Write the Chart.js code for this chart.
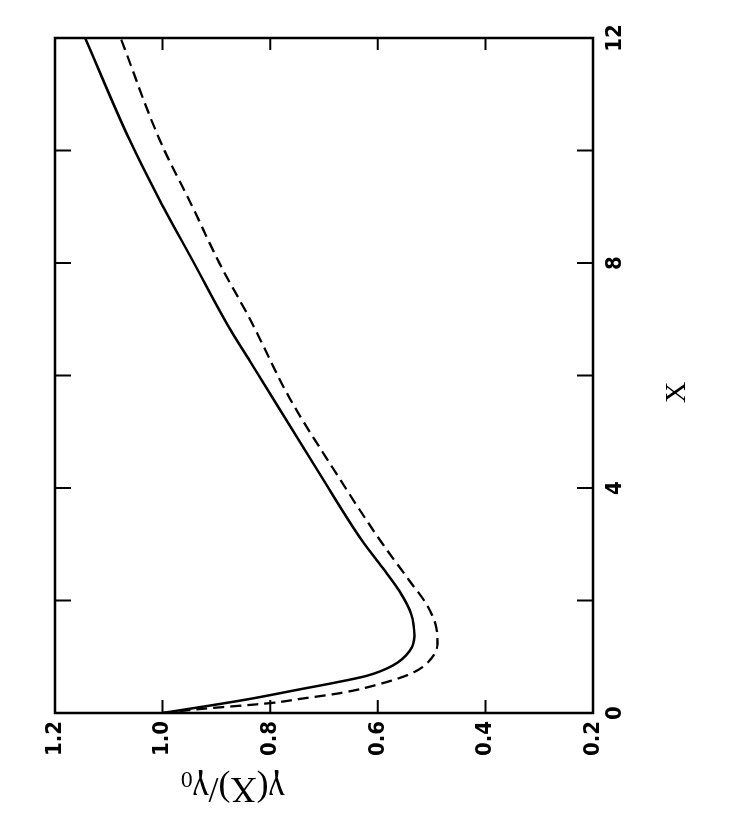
<!DOCTYPE html>
<html>
<head>
<meta charset="utf-8">
<script src="https://cdn.jsdelivr.net/npm/chart.js@4.4.1/dist/chart.umd.min.js"></script>
<style>
    html, body { margin: 0; padding: 0; background: #fff; }
    body { width: 745px; height: 830px; position: relative; overflow: hidden; }
    /* the figure is printed turned a quarter turn to the left */
    #wrap {
        position: absolute; left: 0; top: 0; width: 830px; height: 745px;
        transform-origin: 0 0; transform: translateY(830px) rotate(-90deg);
    }
</style>
</head>
<body>
<div id="wrap"><canvas id="chart" width="830" height="745"></canvas></div>
<script>
// X along the curve, gamma(X)/gamma0
const xSolid = [0, 0.12, 0.25, 0.43, 0.52, 0.66, 0.84, 1.10, 1.37, 1.76, 2.17, 2.58, 3.06, 4.25, 6.26, 6.83, 8.04, 9.11, 10.18, 12];
const ySolid = [1.0, 0.92, 0.838, 0.74, 0.69, 0.621, 0.573, 0.541, 0.532, 0.538, 0.560, 0.591, 0.629, 0.708, 0.838, 0.875, 0.944, 1.005, 1.061, 1.144];

const xDashed = [0, 0.07, 0.18, 0.25, 0.36, 0.53, 0.71, 0.93, 1.23, 1.51, 1.94, 2.35, 3.06, 4.36, 5.60, 7.01, 7.99, 8.99, 10.18, 12];
const yDashed = [1.0, 0.931, 0.796, 0.745, 0.666, 0.591, 0.536, 0.504, 0.489, 0.491, 0.510, 0.541, 0.595, 0.684, 0.764, 0.838, 0.894, 0.944, 1.005, 1.078];

const xTicks = [0, 2, 4, 6, 8, 10, 12];
const xLabels = ['0', '', '4', '', '8', '', '12'];
const yTicks = [0.2, 0.4, 0.6, 0.8, 1.0, 1.2];
const yLabels = ['0.2', '0.4', '0.6', '0.8', '1.0', '1.2'];

const ink = '#000';
const tickFont = { family: '"Liberation Sans Narrow", "DejaVu Sans Condensed", sans-serif', size: 22, weight: 'bold' };
const serif = '"Liberation Serif", "DejaVu Serif", serif';

function points(xs, ys) {
    return xs.map((x, i) => ({ x, y: ys[i] }));
}

const frame = {
    id: 'frame',
    afterDraw(chart) {
        const { ctx, chartArea: a, scales: { x, y } } = chart;
        ctx.save();
        ctx.strokeStyle = ink;
        ctx.lineWidth = 2.5;
        ctx.strokeRect(a.left, a.top, a.right - a.left, a.bottom - a.top);

        ctx.lineWidth = 2;
        ctx.beginPath();
        xTicks.slice(1, -1).forEach((v) => {
            const px = x.getPixelForValue(v);
            ctx.moveTo(px, a.bottom); ctx.lineTo(px, a.bottom - 16);
            ctx.moveTo(px, a.top); ctx.lineTo(px, a.top + 16);
        });
        yTicks.slice(1, -1).forEach((v) => {
            const py = y.getPixelForValue(v);
            ctx.moveTo(a.left, py); ctx.lineTo(a.left + 13, py);
            ctx.moveTo(a.right, py); ctx.lineTo(a.right - 12, py);
        });
        ctx.stroke();

        ctx.fillStyle = ink;
        ctx.textBaseline = 'middle';

        // X title, a little below the middle of the axis as printed
        ctx.textAlign = 'center';
        ctx.font = `30px ${serif}`;
        ctx.fillText('X', x.getPixelForValue(5.7), 677);

        // gamma(X)/gamma0, also off centre
        ctx.translate(43, y.getPixelForValue(0.87));
        ctx.rotate(-Math.PI / 2);
        ctx.textAlign = 'left';
        ctx.font = `36px ${serif}`;
        const main = 'γ(X)/γ';
        const wMain = ctx.measureText(main).width;
        ctx.font = `24px ${serif}`;
        const wSub = ctx.measureText('0').width;
        const start = -(wMain + wSub) / 2;
        ctx.font = `36px ${serif}`;
        ctx.fillText(main, start, 0);
        ctx.font = `24px ${serif}`;
        ctx.fillText('0', start + wMain, 9);
        ctx.restore();
    },
};

new Chart(document.getElementById('chart'), {
    type: 'line',
    data: {
        datasets: [
            {
                data: points(xSolid, ySolid),
                borderColor: ink,
                borderWidth: 2.5,
                pointRadius: 0,
                cubicInterpolationMode: 'monotone',
            },
            {
                data: points(xDashed, yDashed),
                borderColor: ink,
                borderWidth: 2.3,
                borderDash: [11, 6],
                pointRadius: 0,
                cubicInterpolationMode: 'monotone',
            },
        ],
    },
    options: {
        responsive: false,
        animation: false,
        layout: { padding: { top: 55, right: 38, left: 0, bottom: 0 } },
        plugins: { legend: { display: false }, tooltip: { enabled: false } },
        scales: {
            x: {
                type: 'linear',
                min: 0,
                max: 12,
                afterFit: (s) => { s.height = 152; },
                afterBuildTicks: (s) => { s.ticks = xTicks.map((value) => ({ value })); },
                grid: { display: false, drawTicks: false },
                border: { display: false },
                ticks: {
                    color: ink,
                    font: tickFont,
                    padding: 9,
                    maxRotation: 0,
                    autoSkip: false,
                    callback: (v) => xLabels[xTicks.indexOf(v)] ?? '',
                },
            },
            y: {
                min: 0.2,
                max: 1.2,
                afterFit: (s) => { s.width = 117; },
                afterBuildTicks: (s) => { s.ticks = yTicks.map((value) => ({ value })); },
                grid: { display: false, drawTicks: false },
                border: { display: false },
                ticks: {
                    color: ink,
                    font: tickFont,
                    padding: 8,
                    callback: (v) => yLabels[yTicks.indexOf(v)] ?? '',
                },
            },
        },
    },
    plugins: [frame],
});
</script>
</body>
</html>
